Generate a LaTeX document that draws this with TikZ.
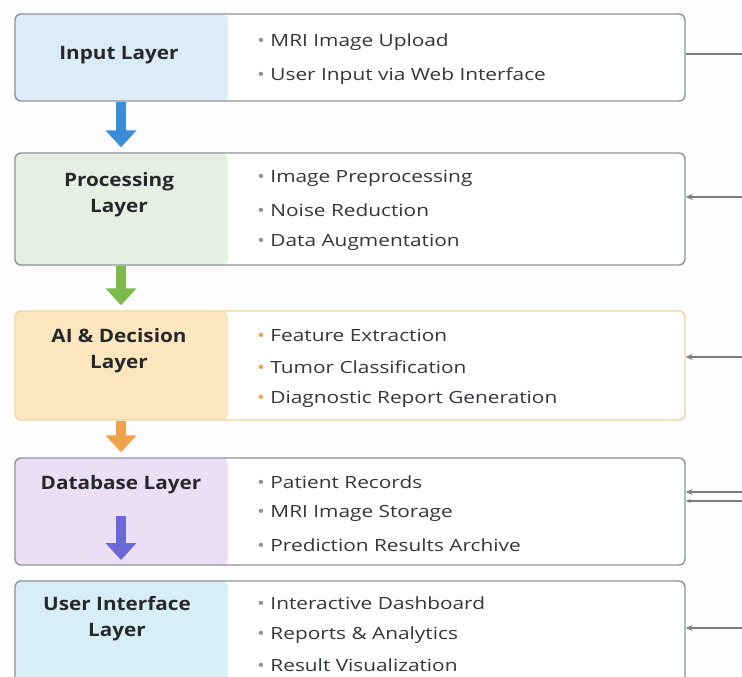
\documentclass[tikz,border=0pt]{standalone}
\usepackage{fontspec}
\setmainfont{Open Sans}
\newfontfamily\itemfont{Open Sans}[FakeStretch=1.24]
\newfontfamily\titlefont{Open Sans}[FakeStretch=1.12]
\usetikzlibrary{arrows.meta}
\definecolor{bgcol}{HTML}{FDFDFD}
\definecolor{boxline}{HTML}{8E949B}
\definecolor{ailine}{HTML}{EFD6A2}
\definecolor{titletext}{HTML}{26282C}
\definecolor{itemtext}{HTML}{34363A}
\definecolor{feedline}{HTML}{7A7E84}
\definecolor{inputfill}{HTML}{DCEBF8}
\definecolor{procfill}{HTML}{E3F0E2}
\definecolor{aifill}{HTML}{FCE6BE}
\definecolor{dbfill}{HTML}{ECDEF4}
\definecolor{uifill}{HTML}{D8EEF6}
\definecolor{inputarrow}{HTML}{3B8DDA}
\definecolor{procarrow}{HTML}{7DBA4C}
\definecolor{aiarrow}{HTML}{F0A34C}
\definecolor{dbarrow}{HTML}{6B68D8}
\tikzset{panel/.style={path picture={\fill[#1] (path picture bounding box.north west) rectangle ([xshift=213pt]path picture bounding box.south west);}}}
\begin{document}
\begin{tikzpicture}[x=1pt,y=-1pt]
      \tikzstyle{every node}+=[inner sep=0pt]
      \tikzstyle{layer}=[draw=boxline, line width=1.4pt, rounded corners=6pt, fill=white, minimum width=670pt]
      \tikzstyle{title}=[font=\titlefont\fontsize{18.5}{26}\selectfont\bfseries, text=titletext, align=center]
      \tikzstyle{item}=[anchor=west, font=\itemfont\fontsize{16.8}{19}\selectfont, text=itemtext]
      \tikzstyle{flow}=[line width=10pt, shorten >=5pt, -{Triangle[length=17pt, width=30pt]}]
      \tikzstyle{feed}=[line width=1.3pt, draw=feedline, -{Stealth[length=7pt, width=6pt]}]
      \fill [bgcol] (0,0) rectangle (742,677);
      \useasboundingbox (0,0) rectangle (742,677);
      \node [layer, minimum height=87pt, panel=inputfill] (inbox) at (350,57.5) {};
      \node [layer, minimum height=112pt, panel=procfill] (procbox) at (350,209) {};
      \node [layer, draw=ailine, minimum height=109pt, panel=aifill] (aibox) at (350,365.5) {};
      \node [layer, minimum height=107pt, panel=dbfill] (dbbox) at (350,511.5) {};
      \node [layer, minimum height=112pt, panel=uifill] (uibox) at (350,637) {};
      \node [title] (intitle) at (119,55) {Input Layer};
      \node [title] (proctitle) at (119,195) {Processing\\Layer};
      \node [title] (aititle) at (119,351) {AI \& Decision\\Layer};
      \node [title] (dbtitle) at (121,485) {Database Layer};
      \node [title] (uititle) at (117,619) {User Interface\\Layer};
      \node [item] (in1) at (257,42) {\textcolor{boxline}{•} MRI Image Upload};
      \node [item] (in2) at (257,76) {\textcolor{boxline}{•} User Input via Web Interface};
      \node [item] (proc1) at (257,178) {\textcolor{boxline}{•} Image Preprocessing};
      \node [item] (proc2) at (257,210) {\textcolor{boxline}{•} Noise Reduction};
      \node [item] (proc3) at (257,242) {\textcolor{boxline}{•} Data Augmentation};
      \node [item] (ai1) at (257,335) {\textcolor{aiarrow}{•} Feature Extraction};
      \node [item] (ai2) at (257,367) {\textcolor{aiarrow}{•} Tumor Classification};
      \node [item] (ai3) at (257,399) {\textcolor{aiarrow}{•} Diagnostic Report Generation};
      \node [item] (db1) at (257,482) {\textcolor{boxline}{•} Patient Records};
      \node [item] (db2) at (257,513) {\textcolor{boxline}{•} MRI Image Storage};
      \node [item] (db3) at (257,545) {\textcolor{boxline}{•} Prediction Results Archive};
      \node [item] (ui1) at (257,603) {\textcolor{boxline}{•} Interactive Dashboard};
      \node [item] (ui2) at (257,635) {\textcolor{boxline}{•} Reports \& Analytics};
      \node [item] (ui3) at (257,665) {\textcolor{boxline}{•} Result Visualization};
      \draw [flow, draw=inputarrow] (121,0 |- inbox.south) -- (121,0 |- procbox.north);
      \draw [flow, draw=procarrow] (121,0 |- procbox.south) -- (121,0 |- aibox.north);
      \draw [flow, draw=aiarrow] (121,0 |- aibox.south) -- (121,0 |- dbbox.north);
      \coordinate (dbtop) at (121,516);
      \coordinate (dbend) at (121,565);
      \draw [flow, draw=dbarrow] (dbtop) -- (dbend);
      \coordinate (bus1) at (742,54);
      \coordinate (bus2) at (742,197);
      \coordinate (bus3) at (742,357);
      \coordinate (bus4) at (742,492);
      \coordinate (bus5) at (742,501);
      \coordinate (bus6) at (742,628);
      \draw [line width=1.5pt, draw=feedline] (bus1) -- (inbox.east |- bus1);
      \draw [feed] (bus2) -- (procbox.east |- bus2);
      \draw [feed, -{Stealth[length=7pt, width=6pt, fill=aiarrow]}] (bus3) -- (aibox.east |- bus3);
      \draw [feed] (bus4) -- (dbbox.east |- bus4);
      \draw [feed, -{Stealth[length=5pt, width=4pt]}] (bus5) -- (dbbox.east |- bus5);
      \draw [feed] (bus6) -- (uibox.east |- bus6);
\end{tikzpicture}
\end{document}
